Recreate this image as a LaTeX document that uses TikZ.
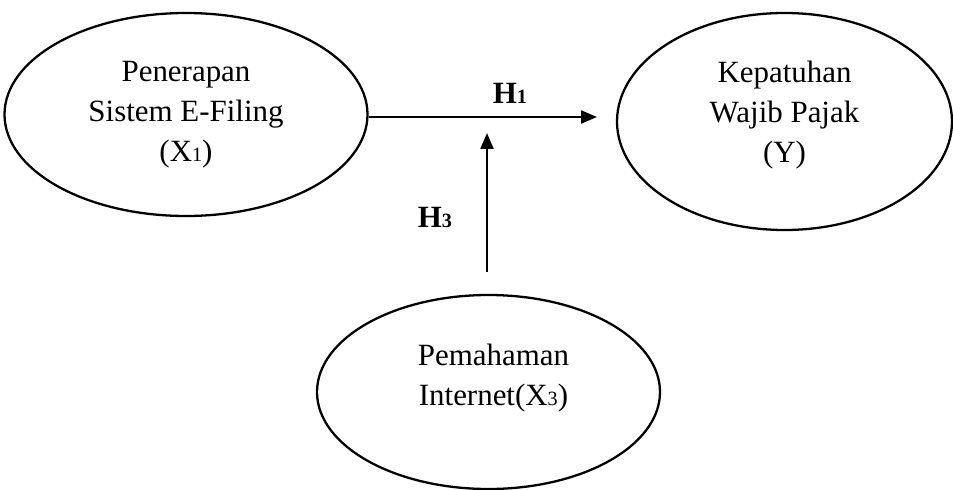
\documentclass[tikz,border=0pt]{standalone}
\usepackage{fontspec}
\setmainfont{Liberation Serif}
\usetikzlibrary{shapes.geometric, arrows.meta, positioning}
\newcommand{\idx}[1]{{\fontsize{11.5}{13}\selectfont #1}}

\begin{document}
\begin{tikzpicture}[
    varbox/.style={draw, ellipse, line width=1.3pt, inner sep=0pt},
    vartext/.style={align=center, font=\fontsize{17.6}{22.8}\selectfont},
    hyplabel/.style={font=\fontsize{17.6}{20}\selectfont\bfseries},
    hyparrow/.style={line width=1.2pt, -{Triangle[length=3.2mm,width=2.6mm]}}
]
        % Page size
        \useasboundingbox (0,0) rectangle (19.06,9.78);

        % Variable ellipses
        \node[varbox, minimum width=7.26cm, minimum height=4.06cm] (efiling) at (3.72,7.49) {}; % X1
        \node[varbox, minimum width=6.70cm, minimum height=4.34cm] (kepatuhan) at (15.69,7.35) {}; % Y
        \node[varbox, minimum width=6.86cm, minimum height=3.88cm] (internet) at (9.77,1.94) {}; % X3

        % Variable texts
        \node[vartext] (efilingtxt) at (efiling.center) {Penerapan\\Sistem E-Filing\\(X\idx{1})};
        \node[vartext, yshift=0.13cm] (kepatuhantxt) at (kepatuhan.center) {Kepatuhan\\Wajib Pajak\\(Y)};
        \node[vartext, xshift=0.1cm, yshift=0.27cm] (internettxt) at (internet.center) {Pemahaman\\Internet(X\idx{3})};

        % Arrow ends
        \coordinate (h1start) at (7.38,7.44);
        \coordinate (h1end) at (11.94,7.44);
        \coordinate (h3start) at (9.74,4.34);
        \coordinate (h3end) at (9.74,7.12);

        % Hypotheses
        \draw[hyparrow] (h1start) -- (h1end); % H1
        \draw[hyparrow] (h3start) -- (h3end); % H3
        \node[hyplabel] (h1) at (10.2,7.92) {H\idx{1}};
        \node[hyplabel] (h3) at (8.7,5.43) {H\idx{3}};
\end{tikzpicture}
\end{document}
